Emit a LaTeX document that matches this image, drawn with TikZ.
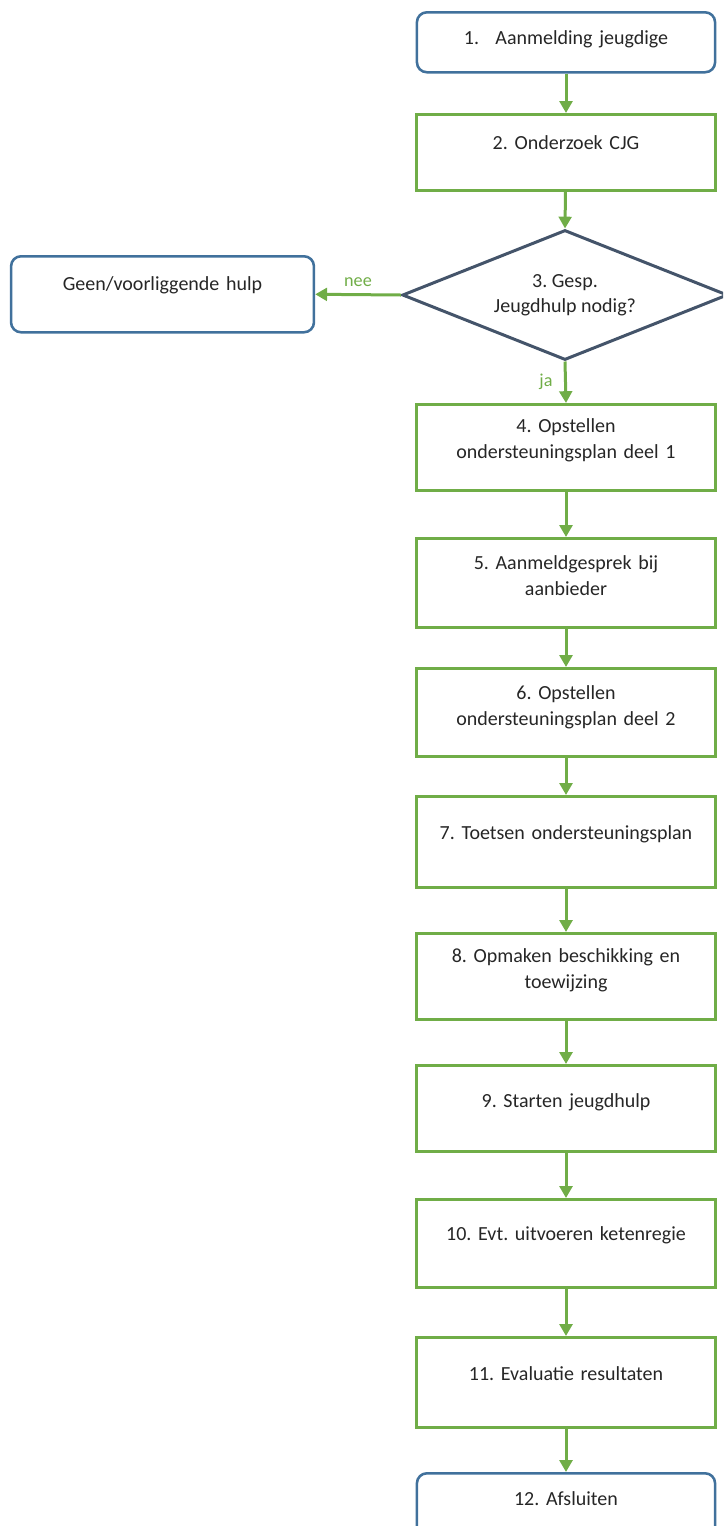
\documentclass[tikz,border=0pt]{standalone}
\usepackage{fontspec}
\setmainfont{Carlito}
\usepackage{xcolor}
\usepackage{tikz}
\usetikzlibrary{shapes.geometric,arrows.meta,positioning}
\frenchspacing
\definecolor{stepgreen}{RGB}{112,173,71}
\definecolor{termblue}{RGB}{65,113,156}
\definecolor{choiceslate}{RGB}{68,84,106}
\tikzstyle{block} =
  [rectangle, draw=stepgreen, line width=1.65pt, anchor=north,
   text width=150pt, inner xsep=7pt, inner ysep=0pt, align=center,
   text=black!85, font=\fontsize{11}{14.3}\selectfont]
\tikzstyle{terminal} =
  [block, draw=termblue, line width=1.4pt, rounded corners=5.5pt]
\tikzstyle{decision} =
  [diamond, draw=choiceslate, line width=1.65pt, shape aspect=2.5,
   minimum width=179pt, minimum height=71.5pt, inner sep=0pt, align=center,
   text=black!85, font=\fontsize{11}{13.8}\selectfont]
\tikzstyle{arrow}=[draw=stepgreen, line width=1.65pt, -{Triangle[length=6.5pt,width=7pt]}]
\tikzstyle{answer}=[text=stepgreen, font=\fontsize{10}{12}\selectfont]

\begin{document}
\begin{tikzpicture}[x=0.55pt, y=-0.55pt]
  \useasboundingbox (0,0) rectangle (723,1526);
  \clip (0,0) rectangle (723,1526);

  \node [terminal, text height=17.6pt, text depth=15.4pt] (b1) at (566,11)
    {1.\hspace{9pt}Aanmelding jeugdige};
  \node [block, text height=19.25pt, text depth=22.55pt] (b2) at (566,113)
    {2. Onderzoek CJG};
  \node [decision] (dia) at (565,295) {3. Gesp.\\Jeugdhulp nodig?};
  \node [terminal, text width=152.6pt, text height=18.7pt, text depth=23.1pt]
    (geen) at (162.5,255) {Geen/voorliggende hulp};
  \node [block, text height=15.4pt, text depth=31.9pt] (b4) at (566,403)
    {4. Opstellen\\ondersteuningsplan deel 1};
  \node [block, text height=17.05pt, text depth=31.9pt] (b5) at (566,537)
    {5. Aanmeldgesprek bij\\aanbieder};
  \node [block, text height=17.05pt, text depth=31.35pt] (b6) at (566,667)
    {6. Opstellen\\ondersteuningsplan deel 2};
  \node [block, text height=23.65pt, text depth=26.4pt] (b7) at (566,795)
    {7. Toetsen ondersteuningsplan};
  \node [block, text height=15.95pt, text depth=31.35pt] (b8) at (566,932)
    {8. Opmaken beschikking en\\toewijzing};
  \node [block, text height=23.1pt, text depth=24.2pt] (b9) at (566,1064)
    {9. Starten jeugdhulp};
  \node [block, text height=22.55pt, text depth=25.85pt] (b10) at (566,1198)
    {10. Evt. uitvoeren ketenregie};
  \node [block, text height=23.65pt, text depth=25.85pt] (b11) at (566,1336)
    {11. Evaluatie resultaten};
  \node [terminal, text height=17.6pt, text depth=22pt] (b12) at (566,1472)
    {12. Afsluiten};

  \draw [arrow] (b1) to (b2);
  \draw [arrow] (b2) to (dia.north);
  \draw [arrow] (dia.west) to node [answer, above] (nee) {nee} (geen.east);
  \draw [arrow] (dia.south) to node [answer, left, xshift=-3pt] (ja) {ja} (b4.north);
  \draw [arrow] (b4) to (b5);
  \draw [arrow] (b5) to (b6);
  \draw [arrow] (b6) to (b7);
  \draw [arrow] (b7) to (b8);
  \draw [arrow] (b8) to (b9);
  \draw [arrow] (b9) to (b10);
  \draw [arrow] (b10) to (b11);
  \draw [arrow] (b11) to (b12);

\end{tikzpicture}
\end{document}
